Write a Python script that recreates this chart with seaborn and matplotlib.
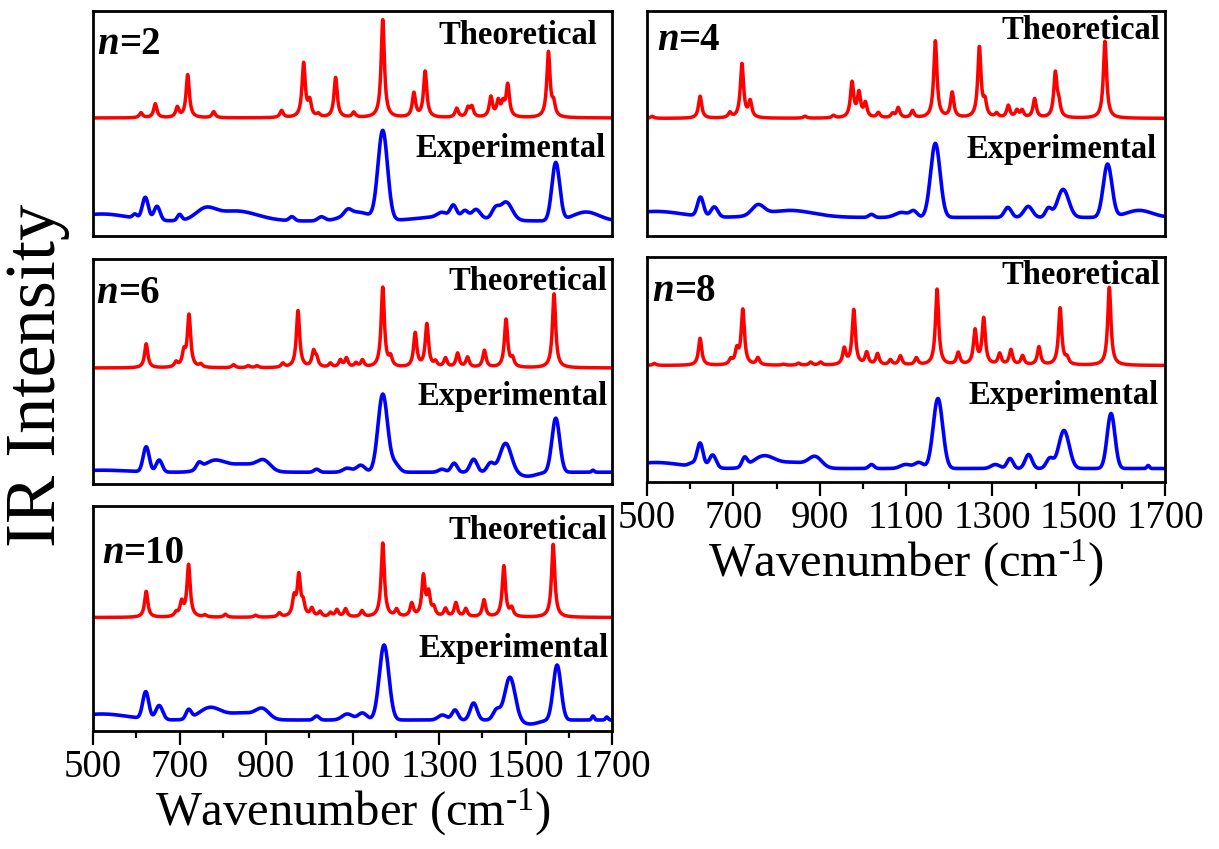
import numpy as np
import pandas as pd
import matplotlib
matplotlib.use("Agg")
import matplotlib.pyplot as plt
import seaborn as sns
from matplotlib.ticker import MultipleLocator

# ---------------- data ----------------
# wavenumber axis and tick labels
x_ticks = [500, 700, 900, 1100, 1300, 1500, 1700]
panel_names = ["n=2", "n=4", "n=6", "n=8", "n=10"]
panel_numbers = ["2", "4", "6", "8", "10"]

# Theoretical spectra: baseline level, peak centres (cm-1), peak heights (a.u.)
theo_hwhm = 4.5
n2_theo_base = 118
n2_theo_pos = [611, 644, 695, 719, 779, 936, 987, 1001, 1021, 1061, 1103, 1170, 1242, 1268,
               1341, 1367, 1376, 1420, 1437, 1448, 1459, 1553, 1565]
n2_theo_amp = [5, 14, 10, 43, 6, 7, 54, 15, 3, 40, 5, 98, 24, 46,
               9, 9, 10, 20, 15, 12, 32, 65, 12]

n4_theo_base = 117.6
n4_theo_pos = [512, 623, 692, 720, 739, 866, 932, 975, 991, 1006, 1036, 1069, 1082, 1115, 1168,
               1207, 1270, 1283, 1310, 1337, 1357, 1369, 1398, 1446, 1454, 1561]
n4_theo_amp = [2, 22, 5, 54, 16, 2, 2.5, 35, 24, 14, 5, 4, 10, 7, 77,
               25, 70, 14, 4, 12, 7, 7, 19, 44, 12, 77]

n6_theo_base = 116
n6_theo_pos = [623, 692, 710, 722, 749, 825, 859, 879, 939, 974, 1010, 1017, 1049, 1072, 1086,
               1108, 1123, 1170, 1188, 1245, 1272, 1292, 1315, 1343, 1366, 1405, 1455, 1470, 1566]
n6_theo_amp = [24, 5, 14, 52, 3, 3, 2, 2, 4, 57, 15, 8, 4, 7, 9,
               4, 7, 80, 9, 34, 43, 5, 9, 14, 10, 17, 48, 8, 74]

n8_theo_base = 116.5
n8_theo_pos = [517, 623, 694, 708, 722, 757, 816, 851, 879, 902, 957, 979, 1009, 1034, 1064,
               1087, 1124, 1172, 1221, 1260, 1280, 1317, 1343, 1370, 1408, 1457, 1473, 1571]
n8_theo_amp = [2, 27, 5, 14, 55, 7, 1, 2, 3, 3, 16, 55, 12, 11, 5,
               9, 7, 76, 12, 34, 46, 11, 15, 9, 18, 57, 6, 78]

n10_theo_base = 113.5
n10_theo_pos = [623, 692, 705, 721, 759, 806, 876, 931, 965, 976, 986, 1006, 1025, 1049, 1064,
                1084, 1122, 1170, 1202, 1237, 1264, 1276, 1288, 1315, 1339, 1362, 1404, 1450,
                1468, 1564]
n10_theo_amp = [26, 4, 14, 52, 2, 3, 2, 4, 18, 40, 12, 8, 5, 4, 7,
                8, 6, 74, 7, 13, 40, 22, 8, 8, 14, 8, 17, 51, 8, 73]

# Experimental spectra: baseline level, band centres, heights, widths (sigma, cm-1)
n2_exp_base = 15
n2_exp_pos = [520, 597, 621, 648, 700, 760, 830, 960, 1028, 1089, 1110, 1170, 1330,
              1306, 1333, 1360, 1386, 1430, 1455, 1570, 1640]
n2_exp_amp = [7, 4, 22, 14, 6, 10, 10, 4, 4, 5, 9, 89, 5,
              4, 11, 6, 8, 9, 18, 58, 9]
n2_exp_sig = [60, 5, 7, 7, 5, 22, 50, 6, 8, 8, 30, 11, 70,
              10, 7, 7, 9, 8, 14, 9, 30]

n4_exp_base = 18.6
n4_exp_pos = [520, 624, 656, 757, 830, 1020, 1090, 1118, 1168, 1336, 1383, 1430, 1464, 1567, 1640]
n4_exp_amp = [6, 19, 10, 10, 7, 3, 5, 6, 74, 10, 11, 9, 28, 53, 7]
n4_exp_sig = [60, 7, 8, 14, 55, 6, 15, 8, 11, 8, 10, 7, 13, 10, 30]

n6_exp_base = 11.8
n6_exp_pos = [520, 623, 653, 745, 780, 850, 895, 1017, 1088, 1119, 1170, 1198, 1307, 1335,
              1380, 1419, 1454, 1505, 1570, 1656]
n6_exp_amp = [2, 25, 12, 6, 11, 8, 9, 3, 4, 7, 78, 8, 3, 9, 13, 9, 29, -4, 54, 2]
n6_exp_sig = [60, 7, 7, 6, 25, 35, 15, 6, 10, 10, 11, 10, 8, 7, 8, 8, 13, 20, 9, 3]

n8_exp_base = 13.5
n8_exp_pos = [520, 604, 623, 652, 726, 770, 840, 890, 1020, 1099, 1130, 1174, 1307, 1341,
              1384, 1433, 1466, 1575, 1661]
n8_exp_amp = [6, 3, 24, 13, 9, 12, 6, 10, 4, 4, 6, 70, 4, 10, 14, 10, 38, 55, 3]
n8_exp_sig = [60, 8, 7, 8, 6, 25, 35, 15, 6, 12, 10, 11, 10, 7, 8, 8, 12, 9, 3]

n10_exp_base = 11
n10_exp_pos = [520, 622, 653, 721, 770, 845, 892, 1017, 1088, 1123, 1173, 1308, 1337, 1380,
               1433, 1464, 1511, 1573, 1656, 1688]
n10_exp_amp = [6, 27, 14, 9, 12, 7, 9, 4, 6, 7, 75, 5, 10, 17, 10, 43, -4, 55, 4, 3]
n10_exp_sig = [60, 7, 8, 6, 25, 35, 15, 6, 12, 10, 11, 10, 7, 8, 8, 12, 20, 9, 3, 3]

# ---------------- build the curves ----------------
wn = np.linspace(500, 1700, 2401)


def theo_curve(base, pos, amp):
    y = np.full_like(wn, float(base))
    for c, h in zip(pos, amp):
        y += h * theo_hwhm ** 2 / ((wn - c) ** 2 + theo_hwhm ** 2)
    return y


def exp_curve(base, pos, amp, sig):
    y = np.full_like(wn, float(base))
    for c, h, s in zip(pos, amp, sig):
        y += h * np.exp(-(wn - c) ** 2 / (2.0 * s ** 2))
    return y


theo = {
    "2": theo_curve(n2_theo_base, n2_theo_pos, n2_theo_amp),
    "4": theo_curve(n4_theo_base, n4_theo_pos, n4_theo_amp),
    "6": theo_curve(n6_theo_base, n6_theo_pos, n6_theo_amp),
    "8": theo_curve(n8_theo_base, n8_theo_pos, n8_theo_amp),
    "10": theo_curve(n10_theo_base, n10_theo_pos, n10_theo_amp),
}
expt = {
    "2": exp_curve(n2_exp_base, n2_exp_pos, n2_exp_amp, n2_exp_sig),
    "4": exp_curve(n4_exp_base, n4_exp_pos, n4_exp_amp, n4_exp_sig),
    "6": exp_curve(n6_exp_base, n6_exp_pos, n6_exp_amp, n6_exp_sig),
    "8": exp_curve(n8_exp_base, n8_exp_pos, n8_exp_amp, n8_exp_sig),
    "10": exp_curve(n10_exp_base, n10_exp_pos, n10_exp_amp, n10_exp_sig),
}

# ---------------- styling ----------------
sns.set_theme(style="white")
plt.rcParams["font.family"] = ["Liberation Serif", "DejaVu Serif"]
plt.rcParams["mathtext.fontset"] = "custom"
plt.rcParams["mathtext.rm"] = "Liberation Serif"
plt.rcParams["mathtext.it"] = "Liberation Serif:italic"
plt.rcParams["mathtext.bf"] = "Liberation Serif:bold"
plt.rcParams["text.color"] = "black"
plt.rcParams["axes.labelcolor"] = "black"
plt.rcParams["xtick.color"] = "black"
plt.rcParams["ytick.color"] = "black"

fig = plt.figure(figsize=(12.19, 8.49), dpi=100)
fig.patch.set_facecolor("white")

H = 225 / 849
layout = {
    "2": [93 / 1219, 1 - 236 / 849, 519 / 1219, H],
    "4": [647 / 1219, 1 - 236 / 849, 518 / 1219, H],
    "6": [93 / 1219, 1 - 484 / 849, 519 / 1219, H],
    "8": [647 / 1219, 1 - 482 / 849, 518 / 1219, H],
    "10": [93 / 1219, 1 - 731 / 849, 519 / 1219, H],
}
# text placement (axes fraction): theo (x, y), exp (x, y), label (x, y)
theo_txt = {"2": (0.971, 0.853), "4": (0.990, 0.876), "6": (0.990, 0.864),
            "8": (0.990, 0.878), "10": (0.990, 0.853)}
exp_txt = {"2": (0.987, 0.351), "4": (0.984, 0.347), "6": (0.992, 0.351),
           "8": (0.987, 0.348), "10": (0.993, 0.329)}
lab_txt = {"2": (0.008, 0.809), "4": (0.019, 0.828), "6": (0.007, 0.804),
           "8": (0.011, 0.806), "10": (0.017, 0.747)}
bottom_panels = {"8", "10"}

for key in panel_numbers:
    ax = fig.add_axes(layout[key])
    df_t = pd.DataFrame({"Wavenumber": wn, "Intensity": theo[key]})
    df_e = pd.DataFrame({"Wavenumber": wn, "Intensity": expt[key]})
    sns.lineplot(data=df_t, x="Wavenumber", y="Intensity", color="#ff0000", lw=2.5,
                 ax=ax, legend=False, estimator=None)
    sns.lineplot(data=df_e, x="Wavenumber", y="Intensity", color="#0000ff", lw=2.6,
                 ax=ax, legend=False, estimator=None)
    ax.set_xlim(500, 1700)
    ax.set_ylim(0, 225)
    ax.set_yticks([])
    ax.set_ylabel("")
    for sp in ax.spines.values():
        sp.set_visible(True)
        sp.set_color("black")
        sp.set_linewidth(2.0)
    if key in bottom_panels:
        ax.set_xticks(x_ticks)
        ax.set_xticklabels([str(t) for t in x_ticks])
        ax.xaxis.set_minor_locator(MultipleLocator(100))
        ax.tick_params(axis="x", which="major", direction="out", length=10, width=1.6,
                       labelsize=28, pad=3, bottom=True, top=False, colors="black")
        ax.tick_params(axis="x", which="minor", direction="out", length=5, width=1.6,
                       bottom=True, top=False)
        ax.set_xlabel(r"Wavenumber (cm$^{\text{-1}}$)", fontsize=35, labelpad=0)
    else:
        ax.set_xticks([])
        ax.set_xlabel("")

    tx, ty = theo_txt[key]
    ax.text(tx, ty, "Theoretical", transform=ax.transAxes, ha="right", va="baseline",
            fontsize=23.5, fontweight="bold")
    ex, ey = exp_txt[key]
    ax.text(ex, ey, "Experimental", transform=ax.transAxes, ha="right", va="baseline",
            fontsize=23.5, fontweight="bold")
    lx, ly = lab_txt[key]
    t1 = ax.text(lx, ly, "n", transform=ax.transAxes, ha="left", va="baseline",
                 fontsize=28, fontweight="bold", fontstyle="italic")
    ax.annotate("=" + key, xy=(1, 0), xycoords=t1, ha="left", va="bottom",
                fontsize=28, fontweight="bold")

fig.text(0.031, 1 - 375 / 849, "IR Intensity", rotation=90, ha="center", va="center",
         fontsize=52)

fig.savefig("out.png", dpi=100, facecolor="white")
